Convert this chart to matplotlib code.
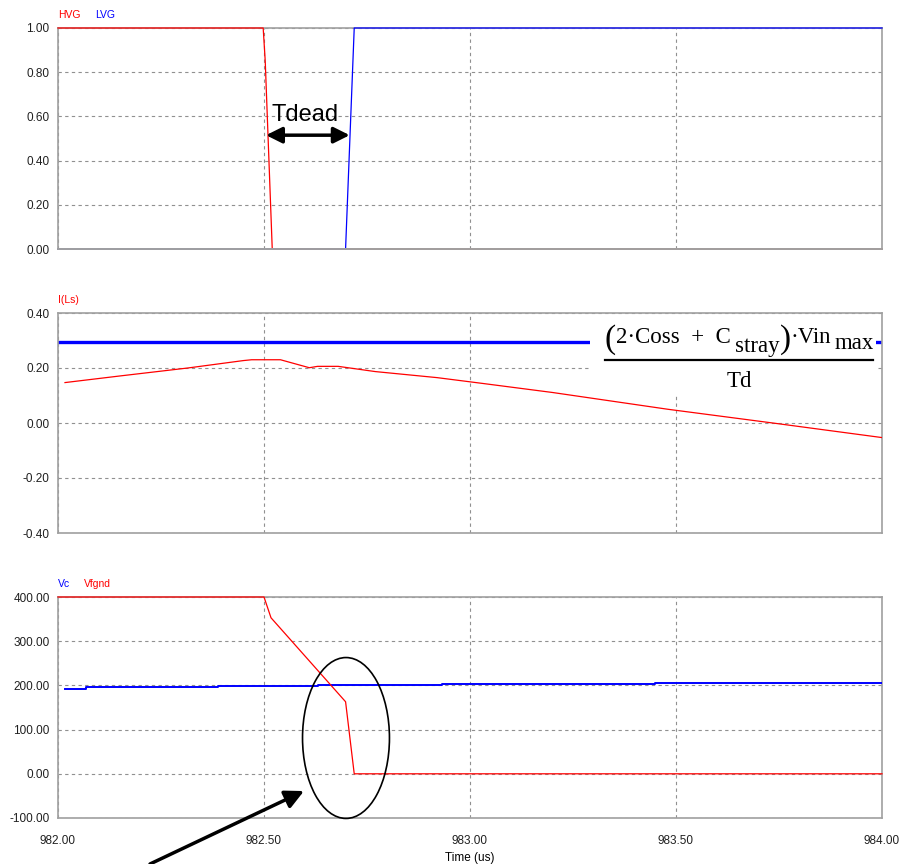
import matplotlib
matplotlib.use("Agg")
import matplotlib.pyplot as plt
from matplotlib.patches import Ellipse, Rectangle
from matplotlib.lines import Line2D
from matplotlib.ticker import FormatStrFormatter

plt.rcParams['font.family'] = ['Liberation Sans Narrow', 'Liberation Sans', 'DejaVu Sans']

# ---- data ----
hvg_t = [982.0, 982.498, 982.503, 982.52, 984.0]
hvg_v = [1.0, 1.0, 0.85, 0.0, 0.0]
lvg_t = [982.0, 982.698, 982.719, 984.0]
lvg_v = [0.0, 0.0, 1.0, 1.0]

ils_t = [982.017, 982.150, 982.315, 982.45, 982.47, 982.54, 982.61, 982.63, 982.68,
         982.77, 982.92, 983.03, 983.20, 983.48, 983.74, 984.0]
ils_v = [0.147, 0.171, 0.200, 0.227, 0.230, 0.230, 0.201, 0.206, 0.206,
         0.187, 0.165, 0.144, 0.111, 0.050, -0.001, -0.053]
ilim_t = [982.0, 984.0]
ilim_v = [0.295, 0.295]

vc_t = [982.017, 982.067, 982.067, 982.388, 982.388, 982.631, 982.631, 982.932, 982.932,
        983.449, 983.449, 984.0]
vc_v = [192.5, 192.5, 196.6, 196.6, 198.9, 198.9, 201.0, 201.0, 203.6, 203.6, 206.0, 206.0]
vf_t = [982.0, 982.5, 982.517, 982.698, 982.719, 984.0]
vf_v = [400.0, 400.0, 353.0, 163.0, 0.0, 0.0]

x_ticks = [982.0, 982.5, 983.0, 983.5, 984.0]
y1_ticks = [0.0, 0.2, 0.4, 0.6, 0.8, 1.0]
y2_ticks = [-0.4, -0.2, 0.0, 0.2, 0.4]
y3_ticks = [-100, 0, 100, 200, 300, 400]

RED = '#ff0000'
BLUE = '#0000ff'

fig = plt.figure(figsize=(9.08, 8.64), dpi=100)
L, W = 58 / 908, 824 / 908
def pos(top, bot):
    return [L, 1 - bot / 864, W, (bot - top) / 864]

ax1 = fig.add_axes(pos(28, 249))
ax2 = fig.add_axes(pos(313, 533))
ax3 = fig.add_axes(pos(597, 818))

for ax, yt, ylim in [(ax1, y1_ticks, (0, 1)), (ax2, y2_ticks, (-0.4, 0.4)), (ax3, y3_ticks, (-100, 400))]:
    ax.set_xlim(982, 984)
    ax.set_ylim(*ylim)
    ax.set_xticks(x_ticks)
    ax.set_yticks(yt)
    ax.yaxis.set_major_formatter(FormatStrFormatter('%.2f'))
    ax.xaxis.set_major_formatter(FormatStrFormatter('%.2f'))
    ax.grid(True, color='#909090', linestyle=(0, (3, 3)), linewidth=0.8)
    ax.tick_params(length=0, labelsize=8.5, colors='#202020')
    ax.tick_params(axis='y', pad=6)
    ax.tick_params(axis='x', pad=12)
    for s in ax.spines.values():
        s.set_color('#a0a0a0')
        s.set_linewidth(1.2)
    ax.set_axisbelow(True)

ax1.tick_params(labelbottom=False)
ax2.tick_params(labelbottom=False)
ax1.spines['bottom'].set_zorder(4)
ax1.spines['bottom'].set_linewidth(1.4)

# top panel
ax1.plot(hvg_t, hvg_v, color=RED, lw=0.9, zorder=3, clip_on=False)
ax1.plot(lvg_t, lvg_v, color=BLUE, lw=0.9, zorder=3, clip_on=False)
ax1.text(0.0, 1.035, 'HVG', color=RED, transform=ax1.transAxes, fontsize=7.5, va='bottom')
ax1.text(0.045, 1.035, 'LVG', color=BLUE, transform=ax1.transAxes, fontsize=7.5, va='bottom')
ax1.annotate('', xy=(982.505, 0.515), xytext=(982.708, 0.515),
             arrowprops=dict(arrowstyle='<|-|>', color='black', lw=2.5, mutation_scale=24,
                             shrinkA=0, shrinkB=0))
ax1.text(982.6, 0.605, 'Tdead', fontsize=17, ha='center', va='center',
         family=['Liberation Sans', 'DejaVu Sans'])

# middle panel
ax2.plot(ilim_t, ilim_v, color=BLUE, lw=2.4, zorder=2)
ax2.plot(ils_t, ils_v, color=RED, lw=0.9, zorder=3)
ax2.text(0.0, 1.035, 'I(Ls)', color=RED, transform=ax2.transAxes, fontsize=7.5, va='bottom')
ax2.add_patch(Rectangle((982 + (590 - 58) / 412, 0.098), (876 - 590) / 412, 0.291,
                        facecolor='white', edgecolor='none', zorder=2.5))

# formula built from pieces: x chained on previous piece, y absolute (figure pixels)
H = 864
SER = ['Liberation Serif', 'DejaVu Serif']
FS = 16.5
PFS = 24
BASE = H - 343      # main baseline
SUB1 = H - 352      # 'stray' baseline
SUB2 = H - 349      # 'max' baseline
PB = H - 348        # paren baseline
kw = dict(family=SER, va='baseline', ha='left', zorder=6, annotation_clip=False)
p0 = ax2.annotate('(', xy=(604, PB), xycoords='figure pixels', fontsize=PFS, **kw)
p1 = ax2.annotate('2\u00b7Coss  +  C', xy=(1, BASE), xycoords=(p0, 'figure pixels'),
                  xytext=(1, 0), textcoords='offset pixels', fontsize=FS, **kw)
p2 = ax2.annotate('stray', xy=(1, SUB1), xycoords=(p1, 'figure pixels'),
                  xytext=(4, 0), textcoords='offset pixels', fontsize=FS, **kw)
p3 = ax2.annotate(')', xy=(1, PB), xycoords=(p2, 'figure pixels'),
                  xytext=(0, 0), textcoords='offset pixels', fontsize=PFS, **kw)
p4 = ax2.annotate('\u00b7Vin', xy=(1, BASE), xycoords=(p3, 'figure pixels'),
                  xytext=(0, 0), textcoords='offset pixels', fontsize=FS, **kw)
p5 = ax2.annotate('max', xy=(1, SUB2), xycoords=(p4, 'figure pixels'),
                  xytext=(3, 0), textcoords='offset pixels', fontsize=FS, **kw)
fig.add_artist(Line2D([605 / 908, 873 / 908], [1 - 360 / 864, 1 - 360 / 864],
                      color='black', lw=1.6, zorder=6))
fig.text(739 / 908, 1 - 387 / 864, 'Td', fontsize=FS, family=SER, ha='center',
         va='baseline', zorder=6)

# bottom panel
ax3.plot(vc_t, vc_v, color=BLUE, lw=1.4, zorder=3)
ax3.plot(vf_t, vf_v, color=RED, lw=0.9, zorder=3, clip_on=False)
ax3.text(0.0, 1.035, 'Vc', color=BLUE, transform=ax3.transAxes, fontsize=7.5, va='bottom')
ax3.text(0.032, 1.035, 'Vfgnd', color=RED, transform=ax3.transAxes, fontsize=7.5, va='bottom')
ax3.add_patch(Ellipse((982.699, 81), 0.211, 364, facecolor='none', edgecolor='black',
                      lw=1.2, clip_on=False, zorder=5))
ax3.annotate('', xy=(982.597, -39), xycoords='data',
             xytext=(150 / 908, 0.0), textcoords='figure fraction',
             arrowprops=dict(arrowstyle='-|>', color='black', lw=2.5, mutation_scale=28,
                             shrinkA=0, shrinkB=0))
ax3.set_xlabel('Time (us)', fontsize=8.5, labelpad=4)

fig.savefig('out.png', dpi=100)
